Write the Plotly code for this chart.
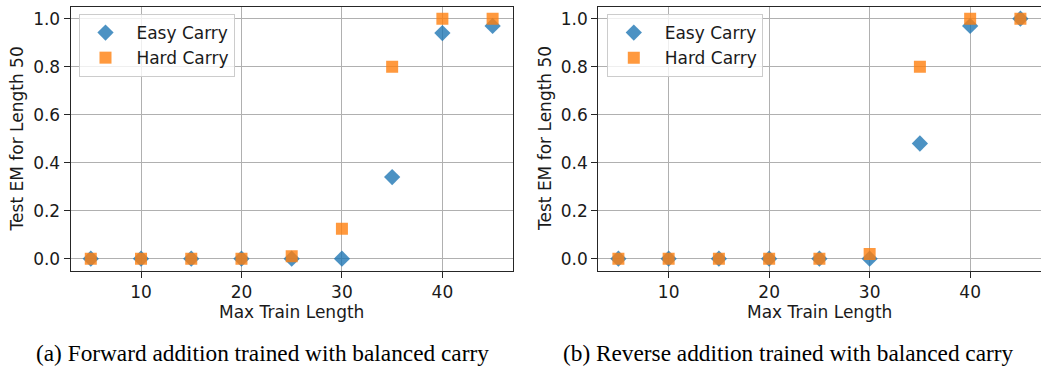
import plotly.graph_objects as go

max_train_len = [5, 10, 15, 20, 25, 30, 35, 40, 45]
fwd_easy = [0, 0, 0, 0, 0, 0, 0.34, 0.94, 0.97]
fwd_hard = [0, 0, 0, 0, 0.01, 0.125, 0.80, 1.0, 1.0]
rev_easy = [0, 0, 0, 0, 0, 0, 0.48, 0.97, 1.0]
rev_hard = [0, 0, 0, 0, 0, 0.02, 0.80, 1.0, 1.0]
y_ticks = [0.0, 0.2, 0.4, 0.6, 0.8, 1.0]
x_ticks = [10, 20, 30, 40]
series_names = ["Easy Carry", "Hard Carry"]
captions = ["(a) Forward addition trained with balanced carry",
            "(b) Reverse addition trained with balanced carry"]

W, H = 1041, 366
BLUE = "rgba(31,119,180,0.8)"
ORANGE = "rgba(255,127,14,0.8)"
FONT = "DejaVu Sans"
FS = 17

fig = go.Figure()
panels = [(fwd_easy, fwd_hard, "x", "y", "legend"), (rev_easy, rev_hard, "x2", "y2", "legend2")]
for easy, hard, xa, ya, lg in panels:
    fig.add_trace(go.Scatter(x=max_train_len, y=easy, mode="markers", name=" " + series_names[0],
                             marker=dict(symbol="diamond", size=12.5, color=BLUE, line=dict(width=0)),
                             xaxis=xa, yaxis=ya, legend=lg))
    fig.add_trace(go.Scatter(x=max_train_len, y=hard, mode="markers", name=" " + series_names[1],
                             marker=dict(symbol="square", size=12, color=ORANGE, line=dict(width=0)),
                             xaxis=xa, yaxis=ya, legend=lg))

xd1 = [70.7 / W, 512.7 / W]
xd2 = [598.3 / W, 1040.5 / W]
yd = [1 - 270.7 / H, 1 - 6.7 / H]

axis_common = dict(showgrid=True, gridcolor="#b0b0b0", gridwidth=1, showline=True,
                   linecolor="#262626", linewidth=1.2, mirror=True, ticks="outside",
                   ticklen=6, tickcolor="#262626", zeroline=False,
                   tickfont=dict(family=FONT, size=FS, color="#1a1a1a"))

legend_common = dict(xanchor="left", yanchor="top", bgcolor="rgba(255,255,255,0.8)",
                     bordercolor="#cccccc", borderwidth=1,
                     font=dict(family=FONT, size=FS, color="#1a1a1a"),
                     itemwidth=41, tracegroupgap=0)

fig.update_layout(
    width=W, height=H, margin=dict(l=0, r=0, t=0, b=0),
    paper_bgcolor="white", plot_bgcolor="white",
    xaxis=dict(domain=xd1, range=[3, 47], tickvals=x_ticks, anchor="y", **axis_common),
    yaxis=dict(domain=yd, range=[-0.05, 1.05], tickvals=y_ticks, tickformat=".1f", anchor="x", **axis_common),
    xaxis2=dict(domain=xd2, range=[3, 47], tickvals=x_ticks, anchor="y2", **axis_common),
    yaxis2=dict(domain=yd, range=[-0.05, 1.05], tickvals=y_ticks, tickformat=".1f", anchor="x2", **axis_common),
    legend=dict(x=79 / W, y=1 - 14 / H, **legend_common),
    legend2=dict(x=607.3 / W, y=1 - 14 / H, **legend_common),
    showlegend=True,
)

annotations = []
for xd, cap, capx in [(xd1, captions[0], 262 / W), (xd2, captions[1], 788 / W)]:
    cx = (xd[0] + xd[1]) / 2
    annotations.append(dict(text="Max Train Length", x=cx, y=1 - 312 / H, xref="paper", yref="paper",
                            xanchor="center", yanchor="middle", showarrow=False,
                            font=dict(family=FONT, size=FS, color="#1a1a1a")))
    annotations.append(dict(text="Test EM for Length 50", x=xd[0] - 54 / W, y=(yd[0] + yd[1]) / 2,
                            xref="paper", yref="paper", xanchor="center", yanchor="middle",
                            textangle=-90, showarrow=False,
                            font=dict(family=FONT, size=FS, color="#1a1a1a")))
    annotations.append(dict(text=cap, x=capx, y=1 - 353 / H, xref="paper", yref="paper",
                            xanchor="center", yanchor="middle", showarrow=False,
                            font=dict(family="Liberation Serif", size=23.3, color="black")))
fig.update_layout(annotations=annotations)

fig.write_html("out.html")
